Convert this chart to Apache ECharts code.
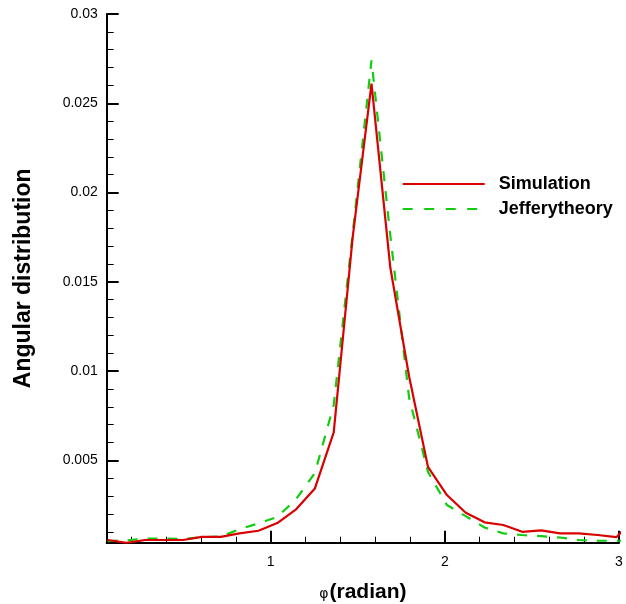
<!DOCTYPE html>
<html>
<head>
<meta charset="utf-8">
<script src="https://cdn.jsdelivr.net/npm/echarts@6/dist/echarts.min.js"></script>
<style>html,body{margin:0;padding:0;background:#fff;}#c{width:626px;height:604px;}</style>
</head>
<body>
<div id="c"></div>
<script>
// phi positions (radian)
const phiValues = [0.064, 0.172, 0.280, 0.389, 0.497, 0.605, 0.713, 0.821, 0.930, 1.038,
  1.146, 1.254, 1.362, 1.471, 1.579, 1.687, 1.795, 1.903, 2.012, 2.120,
  2.228, 2.336, 2.444, 2.553, 2.661, 2.769, 2.877, 2.985, 3.094];
const simulation = [0.00054, 0.00038, 0.00054, 0.00054, 0.00054, 0.00072, 0.00072, 0.00091, 0.00106, 0.00149,
  0.00226, 0.00343, 0.00657, 0.0175, 0.0261, 0.0158, 0.0097, 0.00464, 0.00306, 0.00207,
  0.00153, 0.00138, 0.00100, 0.00108, 0.00091, 0.00091, 0.00082, 0.00070, 0.0018];
const jeffery = [0.00048, 0.00052, 0.00062, 0.00062, 0.00059, 0.00070, 0.00073, 0.00115, 0.00147, 0.00183,
  0.00283, 0.00429, 0.0081, 0.0177, 0.0274, 0.0176, 0.0085, 0.00436, 0.0025, 0.00188,
  0.00124, 0.00091, 0.00082, 0.00076, 0.00068, 0.00054, 0.00050, 0.00050, 0.00050];
const xMajorTicks = [1, 2, 3];
const xMinorTicks = [0.2, 0.4, 0.6, 0.8, 1.2, 1.4, 1.6, 1.8, 2.2, 2.4, 2.6, 2.8];
const yMajorTicks = [0.005, 0.01, 0.015, 0.02, 0.025, 0.03];
const yMinorTicks = [0.001, 0.002, 0.003, 0.004, 0.006, 0.007, 0.008, 0.009, 0.011, 0.012, 0.013, 0.014,
  0.016, 0.017, 0.018, 0.019, 0.021, 0.022, 0.023, 0.024, 0.026, 0.027, 0.028, 0.029];
const seriesNames = ['Simulation', 'Jefferytheory'];

const FONT = '"Liberation Sans", Arial, Helvetica, sans-serif';
const X_MIN = 0.0586, X_MAX = 3, Y_MIN = 0.00039, Y_MAX = 0.03;
const RED = '#d90000', GREEN = '#11cc11';

const chart = echarts.init(document.getElementById('c'), null, {renderer: 'canvas'});
const baseAxis = {
  type: 'value', splitLine: {show: false}, axisLine: {show: false},
  axisLabel: {show: false}, axisTick: {show: false}
};
chart.setOption({
  animation: false,
  backgroundColor: '#fff',
  grid: {left: 106.7, right: 7, top: 14, bottom: 61.3, containLabel: false, outerBoundsMode: 'none'},
  legend: {
    orient: 'vertical', left: 401.7, top: 175, padding: 0,
    itemWidth: 82, itemHeight: 14, itemGap: 7,
    data: [
      {name: seriesNames[0]},
      {name: seriesNames[1], lineStyle: {type: [10, 11.5]}}
    ],
    itemStyle: {opacity: 0},
    textStyle: {fontFamily: FONT, fontSize: 18, fontWeight: 'bold', color: '#000', lineHeight: 18, padding: [0, 0, 0, 9]}
  },
  xAxis: [
    Object.assign({}, baseAxis, {
      position: 'bottom', min: X_MIN, max: X_MAX,
      axisLine: {show: true, onZero: false, lineStyle: {color: '#000', width: 2}},
      axisTick: {show: true, inside: true, length: 12, customValues: xMajorTicks, lineStyle: {color: '#000', width: 2}},
      axisLabel: {show: true, customValues: xMajorTicks, margin: 12, color: '#000', fontFamily: FONT, fontSize: 14},
      name: '{phi|φ}{b|(radian)}', nameLocation: 'middle', nameGap: 39,
      nameTextStyle: {rich: {
        phi: {fontFamily: 'DejaVu Sans', fontSize: 14, color: '#000', verticalAlign: 'bottom', padding: [0, 1, 1, 0]},
        b: {fontFamily: FONT, fontSize: 21, fontWeight: 'bold', color: '#000'}
      }}
    }),
    Object.assign({}, baseAxis, {
      position: 'bottom', min: X_MIN, max: X_MAX,
      axisTick: {show: true, inside: true, length: 6, customValues: xMinorTicks, lineStyle: {color: '#000', width: 1}}
    })
  ],
  yAxis: [
    Object.assign({}, baseAxis, {
      position: 'left', min: Y_MIN, max: Y_MAX,
      axisLine: {show: true, onZero: false, lineStyle: {color: '#000', width: 2}},
      axisTick: {show: true, inside: true, length: 12, customValues: yMajorTicks, lineStyle: {color: '#000', width: 2}},
      axisLabel: {show: true, customValues: yMajorTicks, margin: 9, color: '#000', fontFamily: FONT, fontSize: 14},
      name: 'Angular distribution', nameLocation: 'middle', nameGap: 72,
      nameTextStyle: {fontFamily: FONT, fontSize: 23, fontWeight: 'bold', color: '#000'}
    }),
    Object.assign({}, baseAxis, {
      position: 'left', min: Y_MIN, max: Y_MAX,
      axisTick: {show: true, inside: true, length: 7, customValues: yMinorTicks, lineStyle: {color: '#000', width: 1}}
    })
  ],
  series: [
    {
      name: seriesNames[0], type: 'line', xAxisIndex: 0, yAxisIndex: 0,
      data: phiValues.map((x, i) => [x, simulation[i]]),
      symbol: 'none', smooth: false, clip: true,
      lineStyle: {color: RED, width: 2.2}, itemStyle: {color: RED}, z: 3
    },
    {
      name: seriesNames[1], type: 'line', xAxisIndex: 0, yAxisIndex: 0,
      data: phiValues.map((x, i) => [x, jeffery[i]]),
      symbol: 'none', smooth: false, clip: true,
      lineStyle: {color: GREEN, width: 2.2, type: [10, 10]}, itemStyle: {color: GREEN}, z: 2
    }
  ]
});
</script>
</body>
</html>
